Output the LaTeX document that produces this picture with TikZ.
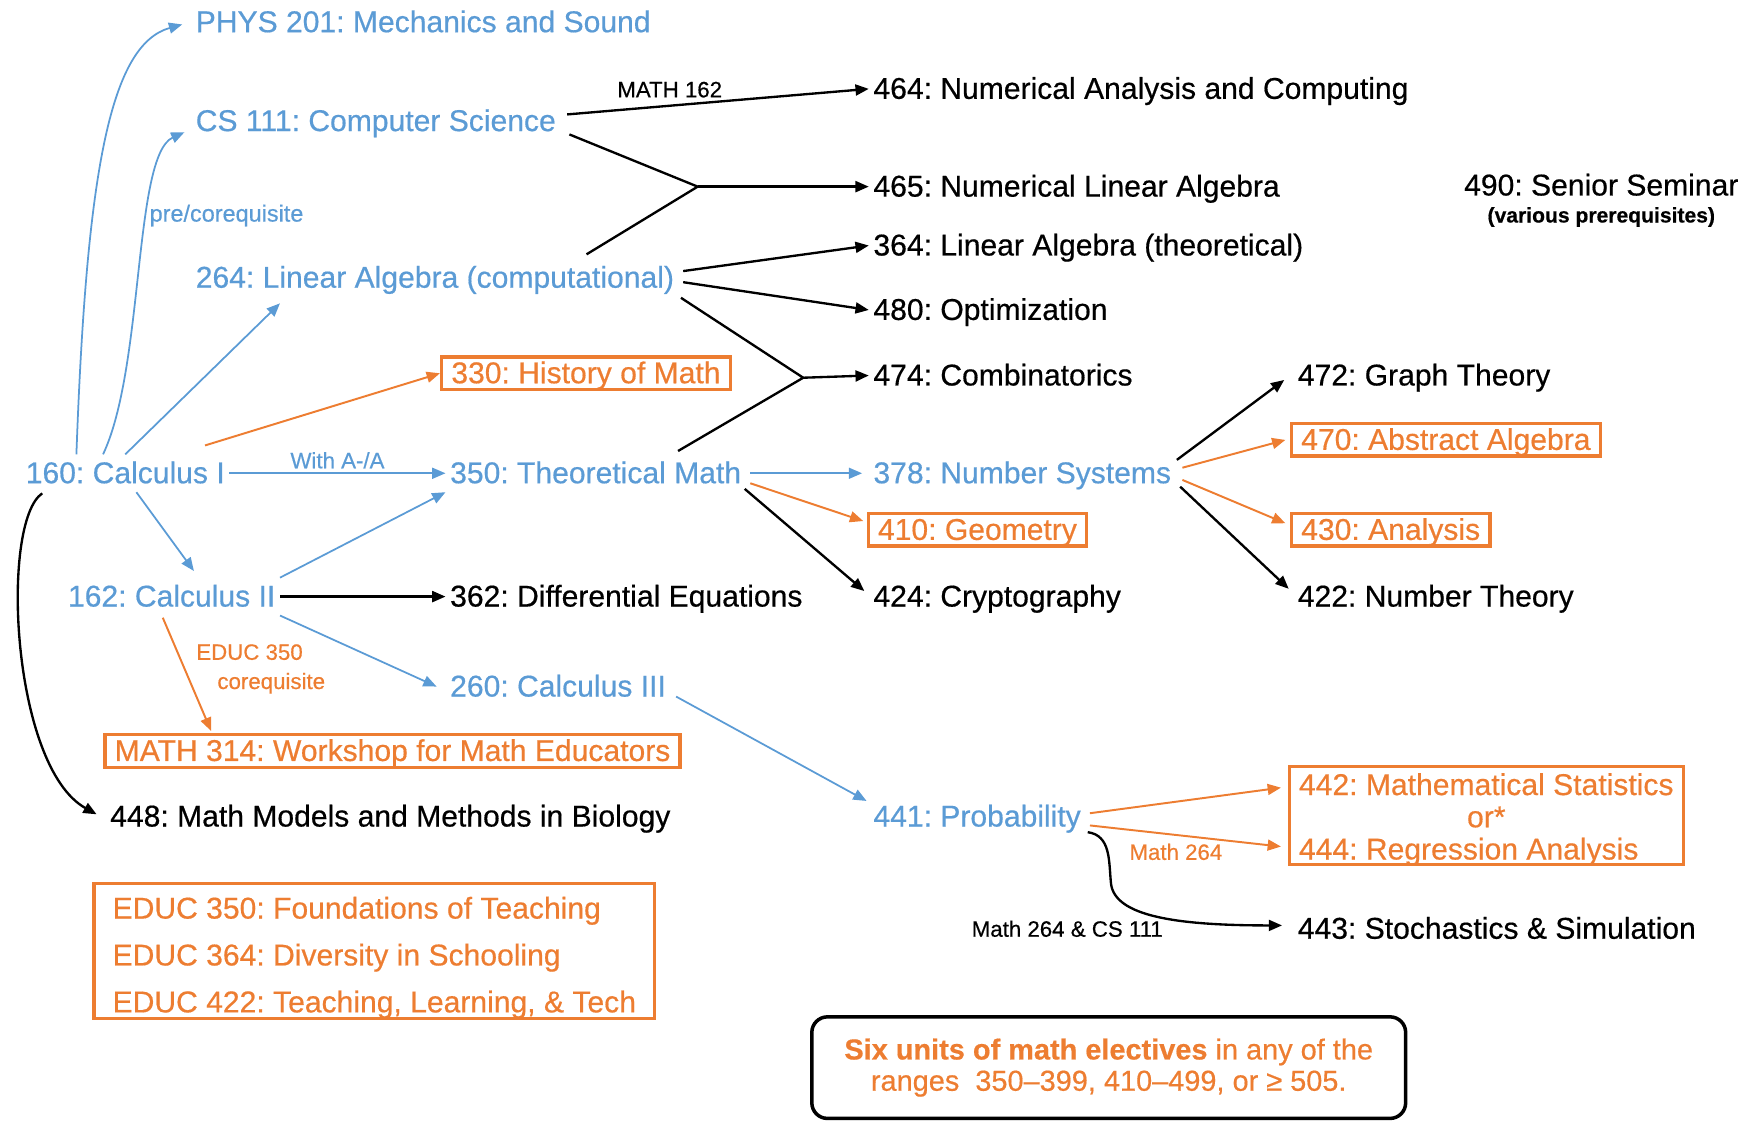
\documentclass[tikz,border=0pt]{standalone}
\usepackage{fontspec}
\setmainfont{Liberation Sans}[RawFeature={embolden=0.5}]
\usepackage{xcolor}
\usetikzlibrary{positioning,calc,arrows.meta}
\definecolor{reqblue}{HTML}{5B9BD5}
\definecolor{elecorange}{HTML}{ED7D31}
\newcommand{\coursefont}{\fontsize{7.7}{9}\selectfont}
\newcommand{\notefont}{\fontsize{5.7}{6.6}\selectfont}
\frenchspacing
\tikzset{
  course/.style={anchor=west, inner sep=1pt, font=\coursefont, text height=6.2pt, text depth=1.1pt},
  lower/.style={course, text=reqblue},
  upper/.style={course, text=black},
  boxed/.style={draw=elecorange, line width=0.85pt, text=elecorange, inner xsep=2.5pt},
  elective/.style={course, boxed, inner ysep=0.5pt},
  note/.style={font=\notefont, inner sep=0pt},
  blueline/.style={draw=reqblue, line width=0.45pt, -{Triangle[length=3.4pt,width=2.8pt]}},
  blackline/.style={draw=black, line width=0.6pt, -{Triangle[length=3.4pt,width=2.8pt]}},
  blackjoin/.style={draw=black, line width=0.6pt},
  orangeline/.style={draw=elecorange, line width=0.5pt, -{Triangle[length=3.4pt,width=2.8pt]}}
}

\begin{document}
\begin{tikzpicture}[x=0.01cm, y=-0.01cm]
    \useasboundingbox (0,0) rectangle (1568,1012);

    % Lower division courses
    \foreach \name/\x/\y/\txt in {phys/172/20/PHYS 201: Mechanics and Sound, cs/172/109/CS 111: Computer Science, la/172/250/264: Linear Algebra (computational), calcone/19/426/160: Calculus I, theo/401/426/350: Theoretical Math, calctwo/57/537/162: Calculus II, calcthree/401/618/260: Calculus III, numsys/782/426/378: Number Systems, prob/782/735/441: Probability} {
        \node[lower] (\name) at (\x,\y) {\txt};
    }

    % Upper division courses
    \foreach \name/\x/\y/\txt in {numan/782/80/464: Numerical Analysis and Computing, numla/782/168/465: Numerical Linear Algebra, latheo/782/221/364: Linear Algebra (theoretical), optim/782/279/480: Optimization, combi/782/338/474: Combinatorics, graph/1164/338/472: Graph Theory, diffeq/401/537/362: Differential Equations, crypto/782/537/424: Cryptography, numth/1164/537/422: Number Theory, bio/95/735/448: Math Models and Methods in Biology, stoch/1164/836/443: Stochastics \& Simulation} {
        \node[upper] (\name) at (\x,\y) {\txt};
    }
    \node[upper, anchor=east] (senior) at (1569,167) {490: Senior Seminar};
    \node[note, font=\fontsize{5.4}{6}\selectfont\bfseries, below=0.5pt of senior] (seniornote) {(various prerequisites)};

    % Teaching track (boxed)
    \node[elective] (hist) at (396,336) {330: History of Math};
    \node[elective] (absalg) at (1161,396) {470: Abstract Algebra};
    \node[elective] (geom) at (780,477) {410: Geometry};
    \node[elective] (anal) at (1161,477) {430: Analysis};
    \node[elective] (workshop) at (93,676) {MATH 314: Workshop for Math Educators};
    \node[boxed, anchor=west, inner ysep=0.15pt, font=\fontsize{7.7}{8.25}\selectfont] (stats) at (1159,734)
        {\raisebox{-1.375pt}[\height][\depth]{\begin{tabular}{@{}l@{}}442: Mathematical Statistics\\ \multicolumn{1}{@{}c@{}}{or*}\\ 444: Regression Analysis\end{tabular}}};
    \node[boxed, anchor=west, align=left, inner xsep=4.8pt, inner ysep=0pt, font=\fontsize{7.7}{12}\selectfont] (educ) at (83,856)
        {\rule{0pt}{9pt}EDUC 350: Foundations of Teaching\\EDUC 364: Diversity in Schooling\\EDUC 422: Teaching, Learning, \& Tech};
    \node[draw, line width=0.9pt, rounded corners=4pt, minimum width=152pt, minimum height=26pt, align=center, text=elecorange, font=\fontsize{7.4}{8}\selectfont] (goal) at (998,961)
        {\textbf{Six units of math electives} in any of the\\ranges\ \ 350–399, 410–499, or ≥ 505.};

    % From Calculus I
    \draw[blueline] ($(calcone.north)+(-44,0)$) .. controls (78,150) and (100,40) .. ($(phys.west)+(-8,2)$);
    \draw[blueline] ($(calcone.north)+(-20,0)$) .. controls (130,330) and (120,140) .. ($(cs.west)+(-6,10)$);
    \node[note, font=\fontsize{6}{7}\selectfont, text=reqblue, anchor=west] (prenote) at (134,194) {pre/corequisite};
    \draw[blueline] (calcone.north) -- ($(la.south west)+(80,6)$);
    \draw[blueline] (calcone.east) -- node[note, text=reqblue, above=1pt] (gradenote) {With A-/A} (theo.west);
    \draw[blueline] ($(calcone.south)+(10,0)$) -- ($(calctwo.north)+(20,-6)$);
    \draw[orangeline] ($(calcone.north east)+(-22,-8)$) -- (hist.west);
    \draw[blackline] ($(calcone.south west)+(19,1)$) .. controls (0,470) and (10,690) .. ($(bio.west)+(-8,-2)$);

    % From Calculus II
    \draw[blueline] (calctwo.north east) -- (theo.south west);
    \draw[blackline] (calctwo.east) -- (diffeq.west);
    \draw[blueline] (calctwo.south east) -- ($(calcthree.west)+(-8,0)$);
    \draw[orangeline] ($(calctwo.south)+(-8,2)$) -- ($(workshop.north west)+(97,-2)$);
    \node[note, text=elecorange, anchor=west] (educnote) at (176,587) {EDUC 350};
    \node[note, text=elecorange, anchor=west] (coreqnote) at (195,615) {corequisite};

    % Computer Science and Linear Algebra
    \coordinate (numjoin) at (628,168);
    \coordinate (combjoin) at (723,340);
    \draw[blackline] ($(cs.east)+(6,-6)$) -- node[note, pos=0.34, above=1.8pt] (mathnote) {MATH 162} (numan.west);
    \draw[blackjoin] ($(cs.east)+(8,12)$) -- (numjoin) -- ($(la.north east)+(-83,-4)$);
    \draw[blackline] (numjoin) -- (numla.west);
    \draw[blackline] ($(la.east)+(4,-6)$) -- (latheo.west);
    \draw[blackline] ($(la.east)+(4,4)$) -- (optim.west);
    \draw[blackjoin] ($(la.south east)+(2,1)$) -- (combjoin) -- ($(theo.north east)+(-61,-3)$);
    \draw[blackline] (combjoin) -- (combi.west);

    % Theoretical Math
    \draw[blueline] ($(theo.east)+(4,0)$) -- ($(numsys.west)+(-6,0)$);
    \draw[orangeline] ($(theo.east)+(4,9)$) -- ($(geom.west)+(-3,-8)$);
    \draw[blackline] ($(theo.south east)+(-1,-3)$) -- ($(crypto.west)+(-4,-5)$);

    % Number Systems
    \draw[blackline] ($(numsys.north east)+(1,5)$) -- ($(graph.west)+(-8,4)$);
    \draw[orangeline] ($(numsys.east)+(6,-5)$) -- ($(absalg.west)+(-4,0)$);
    \draw[orangeline] ($(numsys.east)+(6,6)$) -- ($(anal.west)+(-4,-6)$);
    \draw[blackline] ($(numsys.south east)+(4,-5)$) -- ($(numth.west)+(-4,-7)$);

    % Calculus III and Probability
    \draw[blueline] ($(calcthree.east)+(5,9)$) -- ($(prob.north west)+(-2,3)$);
    \draw[orangeline] ($(prob.east)+(4,-3)$) -- ($(stats.west)+(-6,-25)$);
    \draw[orangeline] ($(prob.east)+(4,8)$) -- node[note, text=elecorange, pos=0.45, below=2pt] (regnote) {Math 264} ($(stats.west)+(-6,28)$);
    \draw[blackline] ($(prob.south east)+(2,-3)$) .. controls (1000,752) and (998,775) .. (1000,795) .. controls (1003,825) and (1060,833) .. ($(stoch.west)+(-10,-3)$);
    \node[note, anchor=west] (stochnote) at (874,836) {Math 264 \& CS 111};
\end{tikzpicture}
\end{document}
